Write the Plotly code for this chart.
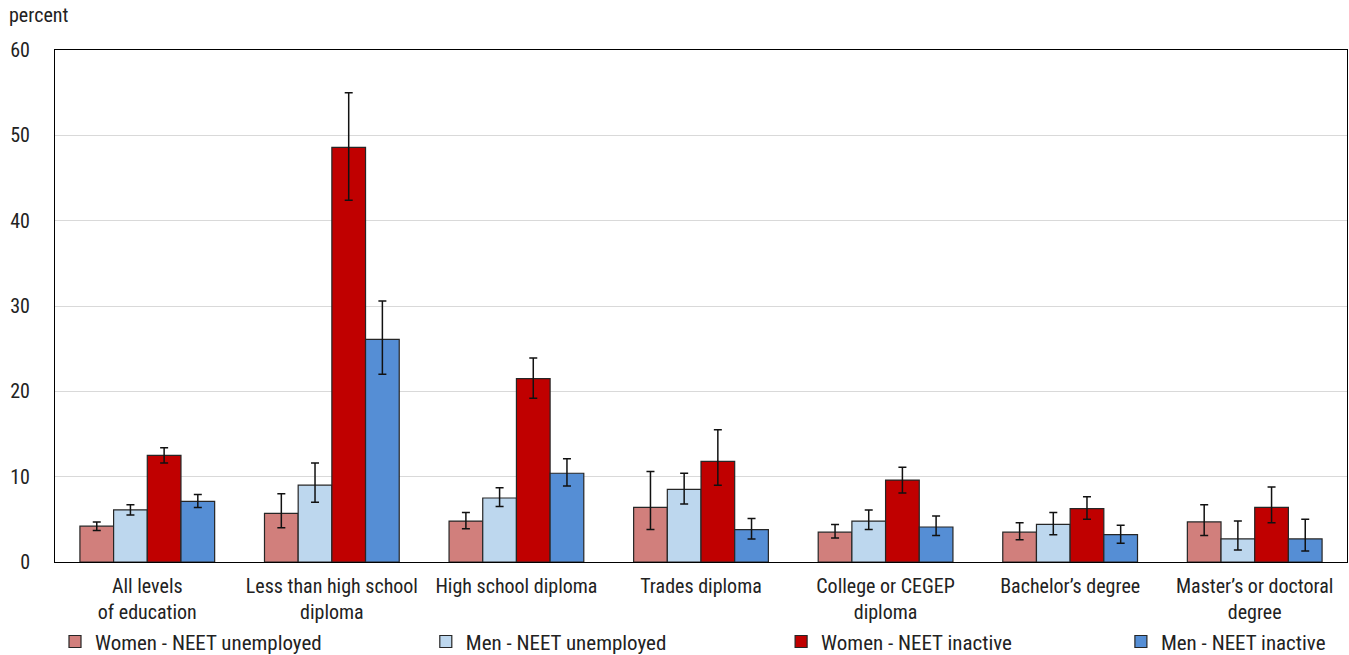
import plotly.graph_objects as go

categories = [
    "All levels<br>of education",
    "Less than high school<br>diploma",
    "High school diploma",
    "Trades diploma",
    "College or CEGEP<br>diploma",
    "Bachelor’s degree",
    "Master’s or doctoral<br>degree",
]

women_unemployed = [4.2, 5.7, 4.8, 6.4, 3.5, 3.5, 4.7]
women_unemployed_hi = [4.7, 8.0, 5.8, 10.6, 4.4, 4.6, 6.7]
women_unemployed_lo = [3.7, 4.0, 3.9, 3.8, 2.8, 2.6, 3.1]

men_unemployed = [6.1, 9.0, 7.5, 8.5, 4.8, 4.4, 2.7]
men_unemployed_hi = [6.7, 11.6, 8.7, 10.4, 6.1, 5.8, 4.8]
men_unemployed_lo = [5.5, 7.0, 6.5, 6.8, 3.8, 3.2, 1.4]

women_inactive = [12.5, 48.6, 21.5, 11.8, 9.6, 6.25, 6.4]
women_inactive_hi = [13.4, 55.0, 23.9, 15.5, 11.1, 7.65, 8.8]
women_inactive_lo = [11.6, 42.4, 19.2, 9.0, 8.1, 5.0, 4.6]

men_inactive = [7.1, 26.1, 10.4, 3.8, 4.1, 3.2, 2.7]
men_inactive_hi = [7.9, 30.6, 12.1, 5.1, 5.4, 4.3, 5.0]
men_inactive_lo = [6.4, 22.0, 8.9, 2.7, 3.1, 2.2, 1.3]

y_ticks = [0, 10, 20, 30, 40, 50, 60]

FONT = "Liberation Sans Narrow, Roboto Condensed, Arial Narrow, Roboto, sans-serif"
TEXT = "#222222"

series = [
    ("Women - NEET unemployed", women_unemployed, women_unemployed_hi, women_unemployed_lo, "#D17F7C", "legend"),
    ("Men - NEET unemployed", men_unemployed, men_unemployed_hi, men_unemployed_lo, "#BDD7EE", "legend2"),
    ("Women - NEET inactive", women_inactive, women_inactive_hi, women_inactive_lo, "#C00000", "legend3"),
    ("Men - NEET inactive", men_inactive, men_inactive_hi, men_inactive_lo, "#558ED5", "legend4"),
]

fig = go.Figure()
for name, vals, hi, lo, color, leg in series:
    fig.add_trace(go.Bar(
        name=name,
        x=categories,
        y=vals,
        marker=dict(color=color, line=dict(color="#262626", width=1.2)),
        error_y=dict(
            type="data",
            symmetric=False,
            array=[h - v for h, v in zip(hi, vals)],
            arrayminus=[v - l for v, l in zip(vals, lo)],
            color="#111111",
            thickness=1.5,
            width=4,
        ),
        legend=leg,
        showlegend=True,
    ))

legend_base = dict(
    orientation="h",
    yanchor="middle",
    y=-0.156,
    xanchor="left",
    font=dict(family=FONT, size=21, color=TEXT),
    bgcolor="rgba(0,0,0,0)",
)

fig.update_layout(
    width=1349,
    height=655,
    margin=dict(l=55, r=2, t=50, b=93, autoexpand=False),
    paper_bgcolor="white",
    plot_bgcolor="white",
    barmode="group",
    bargap=0.27,
    bargroupgap=0,
    showlegend=True,
    font=dict(family=FONT, size=20, color=TEXT),
    legend=dict(legend_base, x=0.0),
    legend2=dict(legend_base, x=0.287),
    legend3=dict(legend_base, x=0.562),
    legend4=dict(legend_base, x=0.825),
    xaxis=dict(
        showline=True,
        linecolor="#000000",
        linewidth=1,
        mirror=True,
        ticks="",
        tickangle=0,
        automargin=False,
        ticklabelstandoff=6,
        tickfont=dict(family=FONT, size=20, color=TEXT),
    ),
    yaxis=dict(
        range=[0, 60],
        tickvals=y_ticks,
        showgrid=True,
        gridcolor="#D9D9D9",
        gridwidth=1,
        showline=True,
        linecolor="#000000",
        linewidth=1,
        mirror=True,
        ticks="",
        zeroline=False,
        automargin=False,
        ticklabelstandoff=20,
        tickfont=dict(family=FONT, size=20, color=TEXT),
    ),
    annotations=[
        dict(
            text="percent",
            xref="paper", yref="paper",
            x=0, y=1,
            xshift=-48, yshift=35,
            xanchor="left", yanchor="middle",
            showarrow=False,
            font=dict(family=FONT, size=20, color=TEXT),
        )
    ],
)

fig.write_html("out.html")
